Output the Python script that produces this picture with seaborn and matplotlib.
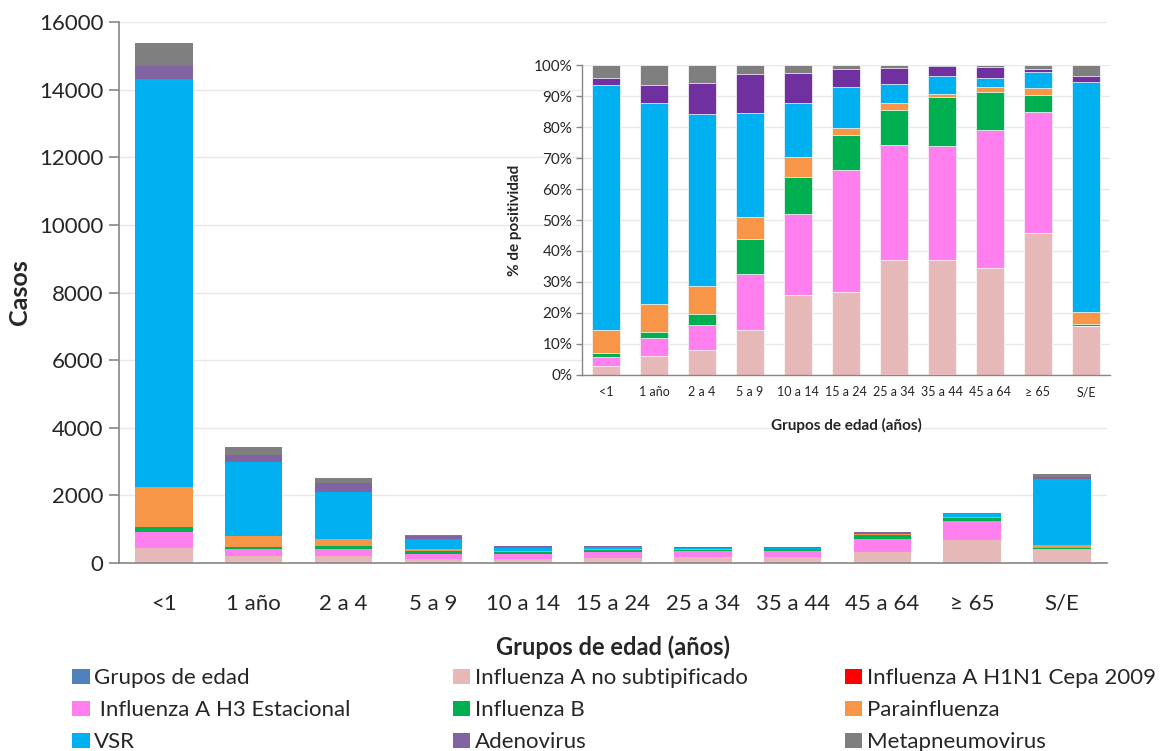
"""Casos y % de positividad de virus respiratorios por grupo de edad."""
import numpy as np
import matplotlib

matplotlib.use("Agg")
import matplotlib.pyplot as plt
import seaborn as sns
from matplotlib.patches import Patch
from matplotlib.ticker import FixedLocator

sns.set_style("white")
plt.rcParams["font.family"] = ["Lato", "DejaVu Sans"]

grupos = ["<1", "1 año", "2 a 4", "5 a 9", "10 a 14", "15 a 24",
          "25 a 34", "35 a 44", "45 a 64", "≥ 65", "S/E"]

# casos (grafico principal)
casos_h1n1 = [0, 0, 0, 0, 0, 0, 2, 2, 0, 0, 0]
casos_no_subtip = [440, 215, 203, 120, 132, 135, 172, 172, 314, 675, 414]
casos_h3 = [470, 200, 200, 151, 135, 199, 172, 170, 407, 574, 0]
casos_flu_b = [160, 60, 92, 94, 62, 56, 53, 74, 111, 82, 21]
casos_para = [1185, 315, 220, 59, 33, 12, 10, 5, 13, 34, 97]
casos_vsr = [12045, 2200, 1390, 278, 89, 67, 29, 27, 27, 74, 1944]
casos_adeno = [400, 205, 252, 105, 51, 30, 25, 14, 34, 16, 55]
casos_meta = [665, 234, 143, 23, 13, 6, 4, 2, 4, 18, 89]

# % de positividad (grafico insertado)
pct_h1n1 = [0, 0, 0, 0, 0, 0, 0.3, 0.3, 0, 0, 0]
pct_no_subtip = [2.9, 6.1, 8.1, 14.5, 25.8, 26.7, 36.9, 36.9, 34.5, 45.8, 15.8]
pct_h3 = [3.0, 5.9, 8.0, 18.2, 26.2, 39.4, 37.0, 36.6, 44.7, 39.0, 0]
pct_flu_b = [1.1, 2.0, 3.7, 11.3, 12.0, 11.2, 11.3, 15.9, 12.2, 5.6, 0.8]
pct_para = [7.5, 8.8, 8.8, 7.1, 6.4, 2.3, 2.1, 1.1, 1.4, 2.3, 3.7]
pct_vsr = [78.9, 64.9, 55.6, 33.5, 17.2, 13.3, 6.3, 5.7, 3.0, 5.0, 74.2]
pct_adeno = [2.5, 6.0, 10.1, 12.6, 9.9, 5.9, 5.3, 3.1, 3.7, 1.1, 2.1]
pct_meta = [4.1, 6.3, 5.7, 2.8, 2.5, 1.2, 0.8, 0.4, 0.5, 1.2, 3.4]

C_GRUPOS = "#4F81BD"
C_NOSUB = "#E6B9B8"
C_H1N1 = "#FF0000"
C_H3 = "#FF7FEE"
C_B = "#00B050"
C_PARA = "#F79646"
C_VSR = "#00B0F0"
C_ADENO = "#8064A2"
C_ADENO_INSET = "#7030A0"
C_META = "#7F7F7F"
GRIS = "#868686"


def stacked(ax, series, colors, width, lw):
    """Barras apiladas: se dibujan los acumulados de mayor a menor."""
    cum = np.zeros(len(grupos))
    tops = []
    for vals in series:
        cum = cum + np.array(vals, dtype=float)
        tops.append(cum.copy())
    for top, color in reversed(list(zip(tops, colors))):
        sns.barplot(x=grupos, y=top, order=grupos, color=color, width=width,
                    saturation=1, edgecolor="white", linewidth=lw,
                    errorbar=None, ax=ax)
    ax.set_xlim(-0.5, len(grupos) - 0.5)


def style_axes(ax, tick_len, tick_w):
    """Ejes estilo Excel: marcas entre categorias."""
    for s in ["top", "right"]:
        ax.spines[s].set_visible(False)
    for s in ["left", "bottom"]:
        ax.spines[s].set_color(GRIS)
        ax.spines[s].set_linewidth(tick_w)
    ax.xaxis.set_minor_locator(
        FixedLocator(np.arange(-0.5, len(grupos), 1.0)))
    ax.tick_params(axis="x", which="major", length=0)
    ax.tick_params(axis="x", which="minor", length=tick_len, color=GRIS,
                   width=tick_w, direction="out")
    ax.tick_params(axis="y", length=tick_len, color=GRIS, width=tick_w,
                   direction="out", left=True)
    ax.yaxis.grid(True, color="#e8e8e8", linewidth=1)
    ax.set_axisbelow(True)


fig = plt.figure(figsize=(11.64, 7.51), dpi=100)

# grafico principal
ax = fig.add_axes([0.1022, 0.2503, 0.8488, 0.7204])
stacked(
    ax,
    [casos_h1n1, casos_no_subtip, casos_h3, casos_flu_b, casos_para,
     casos_vsr, casos_adeno, casos_meta],
    [C_H1N1, C_NOSUB, C_H3, C_B, C_PARA, C_VSR, C_ADENO, C_META],
    0.64, 0,
)
style_axes(ax, 7, 1.2)
ax.set_ylim(0, 16000)
ax.set_yticks(range(0, 16001, 2000))
ax.tick_params(axis="y", labelsize=16, pad=4)
ax.tick_params(axis="x", labelsize=16, pad=22)
ax.set_ylabel("Casos", fontsize=18, fontweight="bold", labelpad=6)
ax.set_xlabel("Grupos de edad (años)", fontsize=17, fontweight="bold",
              labelpad=16)

# grafico insertado
ax2 = fig.add_axes([0.5, 0.5007, 0.4536, 0.4127])
ax2.set_facecolor("white")
stacked(
    ax2,
    [pct_h1n1, pct_no_subtip, pct_h3, pct_flu_b, pct_para, pct_vsr,
     pct_adeno, pct_meta],
    [C_H1N1, C_NOSUB, C_H3, C_B, C_PARA, C_VSR, C_ADENO_INSET, C_META],
    0.58, 0.5,
)
style_axes(ax2, 4, 1)
ax2.set_ylim(0, 100)
ax2.set_yticks(range(0, 101, 10))
ax2.set_yticklabels([f"{v}%" for v in range(0, 101, 10)])
ax2.tick_params(axis="y", labelsize=11, pad=3)
ax2.tick_params(axis="x", labelsize=9, pad=8)
ax2.set_ylabel("% de positividad", fontsize=11, fontweight="bold",
               labelpad=8)
ax2.set_xlabel("Grupos de edad (años)", fontsize=11, fontweight="bold",
               labelpad=14)

# leyenda en tres columnas
cols = [
    [("Grupos de edad", C_GRUPOS), (" Influenza A H3 Estacional", C_H3),
     ("VSR", C_VSR)],
    [("Influenza A no subtipificado", C_NOSUB), ("Influenza B", C_B),
     ("Adenovirus", C_ADENO)],
    [("Influenza A H1N1 Cepa 2009", C_H1N1), ("Parainfluenza", C_PARA),
     ("Metapneumovirus", C_META)],
]
x_pos = [0.062, 0.389, 0.726]
for entries, x in zip(cols, x_pos):
    handles = [Patch(facecolor=c, edgecolor="none") for _, c in entries]
    labels = [t for t, _ in entries]
    fig.legend(handles, labels, loc="upper left", bbox_to_anchor=(x, 0.11),
               frameon=False, fontsize=16, handlelength=0.78,
               handleheight=0.66, handletextpad=0.2, labelspacing=0.53,
               borderaxespad=0, borderpad=0)

fig.savefig("out.png", dpi=100)
